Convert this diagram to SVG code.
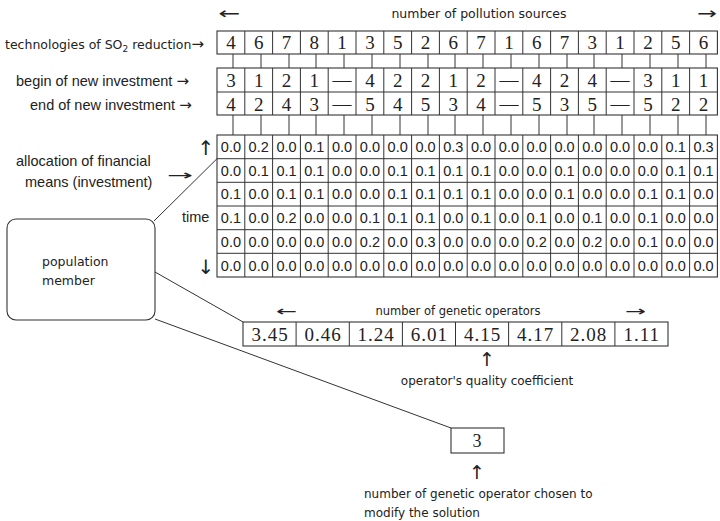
<svg xmlns="http://www.w3.org/2000/svg" width="720" height="521" viewBox="0 0 720 521">
<style>
.ln{stroke:#333;stroke-width:1;fill:none}
.box{stroke:#333;stroke-width:1.1;fill:#fff}
.ser{font-family:"Liberation Serif","Times New Roman",serif;fill:#222;text-anchor:middle}
.dg{font-size:19px}
.gv{font-family:"Liberation Sans",Arial,sans-serif;font-size:14.5px;fill:#222;text-anchor:middle}
.lab{font-family:"Liberation Sans",Arial,sans-serif;font-size:14.5px;fill:#222}
.luc{font-family:"DejaVu Sans","Liberation Sans",sans-serif;fill:#222}
.arr{font-family:"DejaVu Sans",sans-serif;fill:#222}
.ta{font-family:"DejaVu Sans",sans-serif;font-size:15px}
</style>

<g id="header-pollution">
<text class="arr" x="218" y="19" font-size="16" textLength="22" lengthAdjust="spacingAndGlyphs">←</text>
<text class="luc" x="479" y="18" font-size="12.5" text-anchor="middle">number of pollution sources</text>
<text class="arr" x="697" y="19" font-size="16" textLength="20" lengthAdjust="spacingAndGlyphs">→</text>
</g>

<g id="tech-row">
<text class="luc" x="5" y="49" font-size="12.5">technologies of SO<tspan font-size="9" dy="3">2</tspan><tspan dy="-3"> reduction</tspan><tspan class="ta">→</tspan></text>
<rect class="box" x="217" y="31" width="500.4" height="23"/>
<path class="ln" d="M244.8 31V54M272.6 31V54M300.4 31V54M328.2 31V54M356 31V54M383.8 31V54M411.6 31V54M439.4 31V54M467.2 31V54M495 31V54M522.8 31V54M550.6 31V54M578.4 31V54M606.2 31V54M634 31V54M661.8 31V54M689.6 31V54"/>
<g class="ser dg">
<text x="230.9" y="49">4</text><text x="258.7" y="49">6</text><text x="286.5" y="49">7</text><text x="314.3" y="49">8</text><text x="342.1" y="49">1</text><text x="369.9" y="49">3</text><text x="397.7" y="49">5</text><text x="425.5" y="49">2</text><text x="453.3" y="49">6</text><text x="481.1" y="49">7</text><text x="508.9" y="49">1</text><text x="536.7" y="49">6</text><text x="564.5" y="49">7</text><text x="592.3" y="49">3</text><text x="620.1" y="49">1</text><text x="647.9" y="49">2</text><text x="675.7" y="49">5</text><text x="703.5" y="49">6</text>
</g>
</g>

<g id="connectors">
<path class="ln" d="M233 54V68M261 54V68M289 54V68M316 54V68M344 54V68M372 54V68M400 54V68M428 54V68M455 54V68M483 54V68M511 54V68M539 54V68M567 54V68M594 54V68M622 54V68M650 54V68M678 54V68M706 54V68"/>
<path class="ln" d="M233 115V135M261 115V135M289 115V135M316 115V135M344 115V135M372 115V135M400 115V135M428 115V135M455 115V135M483 115V135M511 115V135M539 115V135M567 115V135M594 115V135M622 115V135M650 115V135M678 115V135M706 115V135"/>
<line class="ln" x1="154" y1="221" x2="217" y2="158.7"/>
<line class="ln" x1="155" y1="272" x2="243" y2="322"/>
<line class="ln" x1="155" y1="319" x2="451" y2="428"/>
</g>

<g id="begin-end-rows">
<text class="lab" x="16" y="86">begin of new investment <tspan class="ta">→</tspan></text>
<text class="lab" x="30" y="110">end of new investment <tspan class="ta">→</tspan></text>
<rect class="box" x="217" y="68" width="500.4" height="47"/>
<path class="ln" d="M217 92H717.4M244.8 68V115M272.6 68V115M300.4 68V115M328.2 68V115M356 68V115M383.8 68V115M411.6 68V115M439.4 68V115M467.2 68V115M495 68V115M522.8 68V115M550.6 68V115M578.4 68V115M606.2 68V115M634 68V115M661.8 68V115M689.6 68V115"/>
<g class="ser dg">
<text x="230.9" y="87">3</text><text x="258.7" y="87">1</text><text x="286.5" y="87">2</text><text x="314.3" y="87">1</text><text x="342.1" y="86">—</text><text x="369.9" y="87">4</text><text x="397.7" y="87">2</text><text x="425.5" y="87">2</text><text x="453.3" y="87">1</text><text x="481.1" y="87">2</text><text x="508.9" y="86">—</text><text x="536.7" y="87">4</text><text x="564.5" y="87">2</text><text x="592.3" y="87">4</text><text x="620.1" y="86">—</text><text x="647.9" y="87">3</text><text x="675.7" y="87">1</text><text x="703.5" y="87">1</text>
<text x="230.9" y="111">4</text><text x="258.7" y="111">2</text><text x="286.5" y="111">4</text><text x="314.3" y="111">3</text><text x="342.1" y="110">—</text><text x="369.9" y="111">5</text><text x="397.7" y="111">4</text><text x="425.5" y="111">5</text><text x="453.3" y="111">3</text><text x="481.1" y="111">4</text><text x="508.9" y="110">—</text><text x="536.7" y="111">5</text><text x="564.5" y="111">3</text><text x="592.3" y="111">5</text><text x="620.1" y="110">—</text><text x="647.9" y="111">5</text><text x="675.7" y="111">2</text><text x="703.5" y="111">2</text>
</g>
</g>

<g id="allocation-grid">
<text class="arr" x="206" y="155" font-size="20" text-anchor="middle">↑</text>
<text class="lab" x="16" y="166">allocation of financial</text>
<text class="lab" x="25" y="187">means (investment)</text>
<text class="arr" x="167" y="180" font-size="14" textLength="26" lengthAdjust="spacingAndGlyphs">→</text>
<text class="lab" x="182" y="222">time</text>
<text class="arr" x="206" y="274" font-size="20" text-anchor="middle">↓</text>
<rect class="box" x="217" y="135" width="500.4" height="142"/>
<path class="ln" d="M217 158.7H717.4M217 182.3H717.4M217 206H717.4M217 229.7H717.4M217 253.3H717.4M244.8 135V277M272.6 135V277M300.4 135V277M328.2 135V277M356 135V277M383.8 135V277M411.6 135V277M439.4 135V277M467.2 135V277M495 135V277M522.8 135V277M550.6 135V277M578.4 135V277M606.2 135V277M634 135V277M661.8 135V277M689.6 135V277"/>
<g class="gv">
<text x="230.9" y="152">0.0</text><text x="258.7" y="152">0.2</text><text x="286.5" y="152">0.0</text><text x="314.3" y="152">0.1</text><text x="342.1" y="152">0.0</text><text x="369.9" y="152">0.0</text><text x="397.7" y="152">0.0</text><text x="425.5" y="152">0.0</text><text x="453.3" y="152">0.3</text><text x="481.1" y="152">0.0</text><text x="508.9" y="152">0.0</text><text x="536.7" y="152">0.0</text><text x="564.5" y="152">0.0</text><text x="592.3" y="152">0.0</text><text x="620.1" y="152">0.0</text><text x="647.9" y="152">0.0</text><text x="675.7" y="152">0.1</text><text x="703.5" y="152">0.3</text>
<text x="230.9" y="175.7">0.0</text><text x="258.7" y="175.7">0.1</text><text x="286.5" y="175.7">0.1</text><text x="314.3" y="175.7">0.1</text><text x="342.1" y="175.7">0.0</text><text x="369.9" y="175.7">0.0</text><text x="397.7" y="175.7">0.1</text><text x="425.5" y="175.7">0.1</text><text x="453.3" y="175.7">0.1</text><text x="481.1" y="175.7">0.1</text><text x="508.9" y="175.7">0.0</text><text x="536.7" y="175.7">0.0</text><text x="564.5" y="175.7">0.1</text><text x="592.3" y="175.7">0.0</text><text x="620.1" y="175.7">0.0</text><text x="647.9" y="175.7">0.0</text><text x="675.7" y="175.7">0.1</text><text x="703.5" y="175.7">0.1</text>
<text x="230.9" y="199.4">0.1</text><text x="258.7" y="199.4">0.0</text><text x="286.5" y="199.4">0.1</text><text x="314.3" y="199.4">0.1</text><text x="342.1" y="199.4">0.0</text><text x="369.9" y="199.4">0.0</text><text x="397.7" y="199.4">0.1</text><text x="425.5" y="199.4">0.1</text><text x="453.3" y="199.4">0.1</text><text x="481.1" y="199.4">0.1</text><text x="508.9" y="199.4">0.0</text><text x="536.7" y="199.4">0.0</text><text x="564.5" y="199.4">0.1</text><text x="592.3" y="199.4">0.0</text><text x="620.1" y="199.4">0.0</text><text x="647.9" y="199.4">0.1</text><text x="675.7" y="199.4">0.1</text><text x="703.5" y="199.4">0.0</text>
<text x="230.9" y="223.1">0.1</text><text x="258.7" y="223.1">0.0</text><text x="286.5" y="223.1">0.2</text><text x="314.3" y="223.1">0.0</text><text x="342.1" y="223.1">0.0</text><text x="369.9" y="223.1">0.1</text><text x="397.7" y="223.1">0.1</text><text x="425.5" y="223.1">0.1</text><text x="453.3" y="223.1">0.0</text><text x="481.1" y="223.1">0.1</text><text x="508.9" y="223.1">0.0</text><text x="536.7" y="223.1">0.1</text><text x="564.5" y="223.1">0.0</text><text x="592.3" y="223.1">0.1</text><text x="620.1" y="223.1">0.0</text><text x="647.9" y="223.1">0.1</text><text x="675.7" y="223.1">0.0</text><text x="703.5" y="223.1">0.0</text>
<text x="230.9" y="246.8">0.0</text><text x="258.7" y="246.8">0.0</text><text x="286.5" y="246.8">0.0</text><text x="314.3" y="246.8">0.0</text><text x="342.1" y="246.8">0.0</text><text x="369.9" y="246.8">0.2</text><text x="397.7" y="246.8">0.0</text><text x="425.5" y="246.8">0.3</text><text x="453.3" y="246.8">0.0</text><text x="481.1" y="246.8">0.0</text><text x="508.9" y="246.8">0.0</text><text x="536.7" y="246.8">0.2</text><text x="564.5" y="246.8">0.0</text><text x="592.3" y="246.8">0.2</text><text x="620.1" y="246.8">0.0</text><text x="647.9" y="246.8">0.1</text><text x="675.7" y="246.8">0.0</text><text x="703.5" y="246.8">0.0</text>
<text x="230.9" y="270.5">0.0</text><text x="258.7" y="270.5">0.0</text><text x="286.5" y="270.5">0.0</text><text x="314.3" y="270.5">0.0</text><text x="342.1" y="270.5">0.0</text><text x="369.9" y="270.5">0.0</text><text x="397.7" y="270.5">0.0</text><text x="425.5" y="270.5">0.0</text><text x="453.3" y="270.5">0.0</text><text x="481.1" y="270.5">0.0</text><text x="508.9" y="270.5">0.0</text><text x="536.7" y="270.5">0.0</text><text x="564.5" y="270.5">0.0</text><text x="592.3" y="270.5">0.0</text><text x="620.1" y="270.5">0.0</text><text x="647.9" y="270.5">0.0</text><text x="675.7" y="270.5">0.0</text><text x="703.5" y="270.5">0.0</text>
</g>
</g>

<g id="population-member">
<rect class="box" x="7" y="219" width="148" height="101" rx="9"/>
<text class="luc" x="42" y="266" font-size="12.5">population</text>
<text class="luc" x="42" y="285" font-size="12.5">member</text>
</g>

<g id="genetic-operators">
<text class="arr" x="276" y="316" font-size="14" textLength="21" lengthAdjust="spacingAndGlyphs">←</text>
<text class="luc" x="458" y="315" font-size="11.5" text-anchor="middle">number of genetic operators</text>
<text class="arr" x="625" y="316" font-size="14" textLength="21" lengthAdjust="spacingAndGlyphs">→</text>
<rect class="box" x="243" y="322" width="425" height="24"/>
<path class="ln" d="M296.1 322V346M349.3 322V346M402.4 322V346M455.5 322V346M508.6 322V346M561.8 322V346M614.9 322V346"/>
<g class="ser" font-size="19" letter-spacing="1">
<text x="270" y="341">3.45</text><text x="323.1" y="341">0.46</text><text x="376.2" y="341">1.24</text><text x="429.3" y="341">6.01</text><text x="482.5" y="341">4.15</text><text x="535.6" y="341">4.17</text><text x="588.7" y="341">2.08</text><text x="641.8" y="341">1.11</text>
</g>
<text class="arr" x="487" y="366" font-size="19" text-anchor="middle">↑</text>
<text class="luc" x="487" y="385" font-size="12" text-anchor="middle">operator's quality coefficient</text>
</g>

<g id="chosen-operator">
<rect class="box" x="451" y="428" width="53" height="25"/>
<text class="ser" x="477" y="447" font-size="18">3</text>
<text class="arr" x="477" y="479" font-size="19" text-anchor="middle">↑</text>
<text class="luc" x="364" y="498" font-size="12">number of genetic operator chosen to</text>
<text class="luc" x="364" y="517" font-size="12">modify the solution</text>
</g>
</svg>
